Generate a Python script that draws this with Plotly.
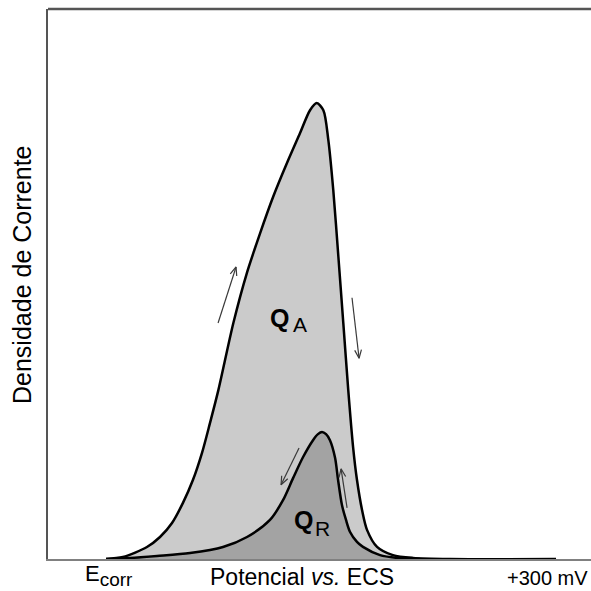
import math
import plotly.graph_objects as go

# Potential (mV vs. Ecorr) and relative current density for the anodic sweep (Q_A)
anodic_potential = [0, 11.3, 27.3, 36, 44, 51.3, 58, 64, 69.3, 74.9, 84.9, 93.8, 102.7, 111.5,
                    120.5, 129.3, 136, 140.5, 144.9, 148.2, 151.5, 154.9, 158.2, 161.5,
                    164.7, 167.3, 170.7, 174, 180.7, 191.3, 204.7, 229.3, 300]
anodic_current = [0, 0.36, 2.18, 4, 6.55, 10.2, 14.4, 19.3, 24.7, 30.7, 42.9, 51.9, 59.2, 65.9,
                  71.9, 77.4, 81.6, 82.9, 81.6, 76.2, 67.1, 55.0, 42.9, 30.7,
                  20.4, 14.4, 8.9, 5.3, 2.2, 0.7, 0.2, 0, 0]

# Reverse sweep (reactivation charge Q_R)
reverse_potential = [0, 16, 34, 56, 78, 94, 109.3, 118, 124.7, 131.3, 138, 141.3, 144, 146.7,
                     149.3, 152.7, 154.7, 157.3, 160, 162.7, 167.3, 171.3, 182.7, 194, 209.3]
reverse_current = [0, 0.18, 0.55, 1.09, 2.18, 4, 7.1, 10.7, 14.7, 18.5, 21.6, 22.7, 23.1, 22.7,
                   21.6, 18.4, 14.4, 9.8, 7.1, 4.9, 3.1, 2.2, 0.7, 0.2, 0]

# Sweep-direction arrows: (tail potential, tail current, head potential, head current)
sweep_arrows = [
    (74.7, 42.9, 86.7, 53.1),
    (164.0, 47.5, 168.7, 36.5),
    (128.7, 20.2, 116.7, 13.5),
    (160.7, 9.3, 156.7, 16.4),
]

X_RANGE = [-38.67, 323.33]
Y_RANGE = [0, 100]
W, H = 591, 591
M = dict(l=48, r=0, t=9, b=32)
PLOT_W = W - M["l"] - M["r"]
PLOT_H = H - M["t"] - M["b"]
px_per_x = PLOT_W / (X_RANGE[1] - X_RANGE[0])
px_per_y = PLOT_H / (Y_RANGE[1] - Y_RANGE[0])

FONT = "Liberation Sans, Arial, sans-serif"


def paper_x(px):
    return (px - M["l"]) / PLOT_W


def paper_y(py):
    return (H - M["b"] - py) / PLOT_H


fig = go.Figure()

fig.add_trace(go.Scatter(
    x=anodic_potential, y=anodic_current, mode="lines",
    line=dict(color="black", width=2.5, shape="spline", smoothing=0.8),
    fill="tozeroy", fillcolor="#cbcbcb", cliponaxis=False, hoverinfo="skip",
))
fig.add_trace(go.Scatter(
    x=reverse_potential, y=reverse_current, mode="lines",
    line=dict(color="black", width=2.5, shape="spline", smoothing=0.8),
    fill="tozeroy", fillcolor="#a3a3a3", cliponaxis=False, hoverinfo="skip",
))


def arrow_path(x0, y0, x1, y1, head_px=9, half_angle=22):
    """Shaft plus an open V head, built in screen space so the head keeps its shape."""
    dx = (x1 - x0) * px_per_x
    dy = (y1 - y0) * px_per_y
    n = math.hypot(dx, dy)
    ux, uy = dx / n, dy / n
    xs, ys = [x0, x1, None], [y0, y1, None]
    for s in (-1, 1):
        a = math.radians(s * half_angle)
        bx = ux * math.cos(a) - uy * math.sin(a)
        by = ux * math.sin(a) + uy * math.cos(a)
        xs += [x1 - head_px * bx / px_per_x, x1]
        ys += [y1 - head_px * by / px_per_y, y1]
    xs.append(None)
    ys.append(None)
    return xs, ys


ax, ay = [], []
for x0, y0, x1, y1 in sweep_arrows:
    xs, ys = arrow_path(x0, y0, x1, y1)
    ax += xs
    ay += ys
fig.add_trace(go.Scatter(x=ax, y=ay, mode="lines",
                         line=dict(color="#3a3a3a", width=1.2),
                         hoverinfo="skip"))


def label(px, py, text, size, bold=False, anchor="center", angle=0):
    fig.add_annotation(x=paper_x(px), y=paper_y(py), xref="paper", yref="paper",
                       xanchor=anchor, yanchor="middle", showarrow=False,
                       textangle=angle, text=f"<b>{text}</b>" if bold else text,
                       font=dict(family=FONT, size=size, color="black"))


# charge labels
label(279, 318, "Q", 25, bold=True)
label(300, 325, "A", 21)
label(303, 520, "Q", 25, bold=True)
label(322, 528, "R", 21)

# potential axis labels
label(109, 575, "E<sub><span style='font-size:19px'>corr</span></sub>", 22)
label(590, 578, "+300 mV", 20, anchor="right")
label(302, 577, "Potencial <i>vs.</i> ECS", 23)

# current axis label
label(22, 275, "Densidade de Corrente", 25, angle=-90)

# top border of the frame
fig.add_shape(type="line", xref="paper", yref="paper", x0=0, x1=1, y0=1, y1=1,
              line=dict(color="#555555", width=2.5))

fig.update_layout(
    width=W, height=H, margin=M,
    paper_bgcolor="white", plot_bgcolor="white",
    showlegend=False,
    xaxis=dict(range=X_RANGE, showgrid=False, zeroline=False,
               showline=True, linecolor="#808080", linewidth=2,
               showticklabels=False, ticks="",
               layer="below traces", fixedrange=True),
    yaxis=dict(range=Y_RANGE, showgrid=False, zeroline=False,
               showline=True, linecolor="#555555", linewidth=2,
               showticklabels=False, ticks="", fixedrange=True),
)

fig.write_html("out.html")
